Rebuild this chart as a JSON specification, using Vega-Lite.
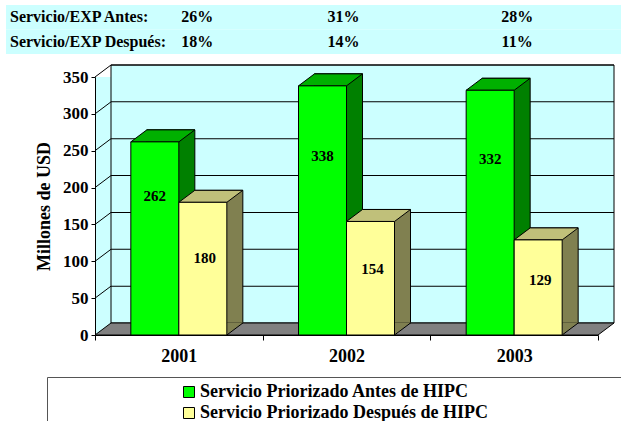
{
 "$schema": "https://vega.github.io/schema/vega-lite/v6.json",
 "width": 503,
 "height": 258,
 "autosize": {"type": "none"},
 "padding": {"left": 95, "top": 77, "right": 23, "bottom": 86},
 "background": "white",
 "datasets": {
  "bars": [
   {"year": "2001", "s": "A", "serie": "Servicio Priorizado Antes de HIPC", "value": 262},
   {"year": "2001", "s": "D", "serie": "Servicio Priorizado Después de HIPC", "value": 180},
   {"year": "2002", "s": "A", "serie": "Servicio Priorizado Antes de HIPC", "value": 338},
   {"year": "2002", "s": "D", "serie": "Servicio Priorizado Después de HIPC", "value": 154},
   {"year": "2003", "s": "A", "serie": "Servicio Priorizado Antes de HIPC", "value": 332},
   {"year": "2003", "s": "D", "serie": "Servicio Priorizado Después de HIPC", "value": 129}
  ],
  "grid": [{"g": 50}, {"g": 100}, {"g": 150}, {"g": 200}, {"g": 250}, {"g": 300}, {"g": 350}],
  "one": [{"k": 1}],
  "filas": [{"fila": "Servicio/EXP Antes:"}, {"fila": "Servicio/EXP Después:"}],
  "hdr": [
   {"fila": "Servicio/EXP Antes:", "year": "2001", "txt": "26%"},
   {"fila": "Servicio/EXP Antes:", "year": "2002", "txt": "31%"},
   {"fila": "Servicio/EXP Antes:", "year": "2003", "txt": "28%"},
   {"fila": "Servicio/EXP Después:", "year": "2001", "txt": "18%"},
   {"fila": "Servicio/EXP Después:", "year": "2002", "txt": "14%"},
   {"fila": "Servicio/EXP Después:", "year": "2003", "txt": "11%"}
  ]
 },
 "layer": [
  {
   "layer": [
    {
     "data": {"name": "one"},
     "mark": {"type": "bar", "width": 503, "xOffset": 16, "yOffset": -12, "y2Offset": -12, "fill": "#ccffff", "stroke": "black", "strokeWidth": 1, "opacity": 1},
     "encoding": {
      "x": {"datum": "2002", "type": "nominal"},
      "y": {"datum": 350, "type": "quantitative", "axis": {"values": [0, 50, 100, 150, 200, 250, 300, 350]}},
      "y2": {"datum": 0}
     }
    },
    {
     "data": {"name": "grid"},
     "mark": {"type": "tick", "orient": "horizontal", "size": 503, "thickness": 1, "color": "black", "opacity": 1, "xOffset": 16, "yOffset": -12},
     "encoding": {
      "x": {"datum": "2002", "type": "nominal"},
      "y": {"field": "g", "type": "quantitative", "title": "Millones de USD", "axis": {"values": [0, 50, 100, 150, 200, 250, 300, 350]}}
     }
    },
    {
     "data": {"name": "grid"},
     "mark": {"type": "point", "shape": "M0,0L16,-12", "size": 4, "filled": false, "stroke": "black", "strokeWidth": 1, "opacity": 1},
     "encoding": {
      "x": {"datum": "2001", "type": "nominal", "bandPosition": 0},
      "y": {"field": "g", "type": "quantitative", "title": "Millones de USD", "axis": {"values": [0, 50, 100, 150, 200, 250, 300, 350]}}
     }
    },
    {
     "data": {"name": "one"},
     "mark": {"type": "point", "shape": "M0,0L16,-12L519,-12L503,0Z", "size": 4, "filled": true, "fill": "#808080", "stroke": "black", "strokeWidth": 1, "opacity": 1},
     "encoding": {
      "x": {"datum": "2001", "type": "nominal", "bandPosition": 0},
      "y": {"datum": 0, "type": "quantitative", "axis": {"values": [0, 50, 100, 150, 200, 250, 300, 350]}}
     }
    },
    {
     "data": {"name": "bars"},
     "transform": [{"filter": "datum.s == 'A'"}],
     "mark": {"type": "bar", "width": 48, "xOffset": -8, "yOffset": -12, "y2Offset": -12, "fill": "#008000", "stroke": "black", "strokeWidth": 1, "opacity": 1},
     "encoding": {
      "x": {"field": "year", "type": "nominal", "title": null},
      "y": {"field": "value", "type": "quantitative", "title": "Millones de USD", "axis": {"values": [0, 50, 100, 150, 200, 250, 300, 350]}},
      "y2": {"datum": 0}
     }
    },
    {
     "data": {"name": "bars"},
     "transform": [{"filter": "datum.s == 'A'"}],
     "mark": {"type": "point", "shape": "M-48,0L-32,-12L16,-12L0,0Z", "size": 4, "filled": true, "fill": "#00b000", "stroke": "black", "strokeWidth": 1, "opacity": 1},
     "encoding": {
      "x": {"field": "year", "type": "nominal", "title": null},
      "y": {"field": "value", "type": "quantitative", "title": "Millones de USD", "axis": {"values": [0, 50, 100, 150, 200, 250, 300, 350]}}
     }
    },
    {
     "data": {"name": "bars"},
     "transform": [{"filter": "datum.s == 'A'"}],
     "mark": {"type": "bar", "width": 48, "xOffset": -24, "stroke": "black", "strokeWidth": 1, "opacity": 1},
     "encoding": {
      "x": {"field": "year", "type": "nominal", "title": null, "scale": {"domain": ["2001", "2002", "2003"], "paddingInner": 0, "paddingOuter": 0}},
      "y": {"field": "value", "type": "quantitative", "title": "Millones de USD", "scale": {"domain": [0, 350], "nice": false}, "axis": {"values": [0, 50, 100, 150, 200, 250, 300, 350]}},
      "y2": {"datum": 0},
      "fill": {
       "field": "serie", "type": "nominal",
       "scale": {"domain": ["Servicio Priorizado Antes de HIPC", "Servicio Priorizado Después de HIPC"], "range": ["#00ff00", "#ffff99"]},
       "legend": {
        "title": " ", "titleOrient": "right", "titlePadding": 150, "titleFontSize": 17,
        "orient": "none", "legendX": -48, "legendY": 300, "direction": "vertical",
        "symbolType": "square", "symbolSize": 121, "symbolStrokeColor": "black", "symbolStrokeWidth": 1,
        "labelFont": "Liberation Serif", "labelFontWeight": "bold", "labelFontSize": 18, "labelColor": "black", "labelLimit": 600,
        "symbolOffset": 127, "labelOffset": 2, "padding": 6, "rowPadding": 3,
        "strokeColor": "#555555", "fillColor": "white"
       }
      }
     }
    },
    {
     "data": {"name": "bars"},
     "transform": [{"filter": "datum.s == 'D'"}],
     "mark": {"type": "bar", "width": 48, "xOffset": 40, "yOffset": -12, "y2Offset": -12, "fill": "#808050", "stroke": "black", "strokeWidth": 1, "opacity": 1},
     "encoding": {
      "x": {"field": "year", "type": "nominal", "title": null},
      "y": {"field": "value", "type": "quantitative", "title": "Millones de USD", "axis": {"values": [0, 50, 100, 150, 200, 250, 300, 350]}},
      "y2": {"datum": 0}
     }
    },
    {
     "data": {"name": "bars"},
     "transform": [{"filter": "datum.s == 'D'"}],
     "mark": {"type": "point", "shape": "M48,-12.6L64.4,-12.6L48,0Z", "size": 4, "filled": true, "fill": "#808050", "strokeWidth": 0, "opacity": 1},
     "encoding": {
      "x": {"field": "year", "type": "nominal", "title": null},
      "y": {"datum": 0, "type": "quantitative", "axis": {"values": [0, 50, 100, 150, 200, 250, 300, 350]}}
     }
    },
    {
     "data": {"name": "bars"},
     "transform": [{"filter": "datum.s == 'D'"}],
     "mark": {"type": "point", "shape": "M48,0L64,-12", "size": 4, "filled": false, "stroke": "black", "strokeWidth": 1, "opacity": 1},
     "encoding": {
      "x": {"field": "year", "type": "nominal", "title": null},
      "y": {"datum": 0, "type": "quantitative", "axis": {"values": [0, 50, 100, 150, 200, 250, 300, 350]}}
     }
    },
    {
     "data": {"name": "bars"},
     "transform": [{"filter": "datum.s == 'D'"}],
     "mark": {"type": "point", "shape": "M0,0L16,-12L64,-12L48,0Z", "size": 4, "filled": true, "fill": "#c0c07a", "stroke": "black", "strokeWidth": 1, "opacity": 1},
     "encoding": {
      "x": {"field": "year", "type": "nominal", "title": null},
      "y": {"field": "value", "type": "quantitative", "title": "Millones de USD", "axis": {"values": [0, 50, 100, 150, 200, 250, 300, 350]}}
     }
    },
    {
     "data": {"name": "bars"},
     "transform": [{"filter": "datum.s == 'D'"}],
     "mark": {"type": "bar", "width": 48, "xOffset": 24, "stroke": "black", "strokeWidth": 1, "opacity": 1},
     "encoding": {
      "x": {"field": "year", "type": "nominal", "title": null},
      "y": {"field": "value", "type": "quantitative", "title": "Millones de USD", "axis": {"values": [0, 50, 100, 150, 200, 250, 300, 350]}},
      "y2": {"datum": 0},
      "fill": {
       "field": "serie", "type": "nominal",
       "legend": {
        "title": " ", "titleOrient": "right", "titlePadding": 150, "titleFontSize": 17,
        "orient": "none", "legendX": -48, "legendY": 300, "direction": "vertical",
        "symbolType": "square", "symbolSize": 121, "symbolStrokeColor": "black", "symbolStrokeWidth": 1,
        "labelFont": "Liberation Serif", "labelFontWeight": "bold", "labelFontSize": 18, "labelColor": "black", "labelLimit": 600,
        "symbolOffset": 127, "labelOffset": 2, "padding": 6, "rowPadding": 3,
        "strokeColor": "#555555", "fillColor": "white"
       }
      }
     }
    }
   ]
  },
  {
   "layer": [
    {
     "data": {"name": "filas"},
     "mark": {"type": "rect", "width": 615, "xOffset": -33, "fill": "#ccffff", "opacity": 1},
     "encoding": {
      "x": {"datum": "2002", "type": "nominal"},
      "y": {"field": "fila", "type": "nominal", "scale": {"domain": ["Servicio/EXP Antes:", "Servicio/EXP Después:"], "range": [-72, -23], "paddingInner": 0, "paddingOuter": 0}, "axis": null}
     }
    },
    {
     "data": {"name": "filas"},
     "mark": {"type": "text", "align": "left", "baseline": "middle", "dx": -85, "font": "Liberation Serif", "fontWeight": "bold", "fontSize": 16, "color": "black"},
     "encoding": {
      "x": {"datum": "2001", "type": "nominal", "bandPosition": 0},
      "y": {"field": "fila", "type": "nominal", "axis": null},
      "text": {"field": "fila"}
     }
    },
    {
     "data": {"name": "hdr"},
     "transform": [{"filter": "datum.year == '2001'"}],
     "mark": {"type": "text", "align": "center", "baseline": "middle", "dx": 18.5, "font": "Liberation Serif", "fontWeight": "bold", "fontSize": 16, "color": "black"},
     "encoding": {
      "x": {"field": "year", "type": "nominal", "title": null},
      "y": {"field": "fila", "type": "nominal", "axis": null},
      "text": {"field": "txt"}
     }
    },
    {
     "data": {"name": "hdr"},
     "transform": [{"filter": "datum.year == '2002'"}],
     "mark": {"type": "text", "align": "center", "baseline": "middle", "dx": -3, "font": "Liberation Serif", "fontWeight": "bold", "fontSize": 16, "color": "black"},
     "encoding": {
      "x": {"field": "year", "type": "nominal", "title": null},
      "y": {"field": "fila", "type": "nominal", "axis": null},
      "text": {"field": "txt"}
     }
    },
    {
     "data": {"name": "hdr"},
     "transform": [{"filter": "datum.year == '2003'"}],
     "mark": {"type": "text", "align": "center", "baseline": "middle", "dx": 3, "font": "Liberation Serif", "fontWeight": "bold", "fontSize": 16, "color": "black"},
     "encoding": {
      "x": {"field": "year", "type": "nominal", "title": null},
      "y": {"field": "fila", "type": "nominal", "axis": null},
      "text": {"field": "txt"}
     }
    }
   ]
  },
  {
   "data": {"name": "bars"},
   "transform": [{"filter": "datum.s == 'A'"}],
   "mark": {"type": "text", "baseline": "middle", "dx": -24, "font": "Liberation Serif", "fontWeight": "bold", "fontSize": 15, "color": "black"},
   "encoding": {
    "x": {"field": "year", "type": "nominal", "title": null},
    "y": {"field": "value", "type": "quantitative", "scale": {"domain": [0, 486], "nice": false}, "axis": null},
    "text": {"field": "value"}
   }
  },
  {
   "data": {"name": "bars"},
   "transform": [{"filter": "datum.s == 'D'"}],
   "mark": {"type": "text", "baseline": "middle", "dx": 26, "font": "Liberation Serif", "fontWeight": "bold", "fontSize": 15, "color": "black"},
   "encoding": {
    "x": {"field": "year", "type": "nominal", "title": null},
    "y": {"field": "value", "type": "quantitative", "scale": {"domain": [0, 600], "nice": false}, "axis": null},
    "text": {"field": "value"}
   }
  }
 ],
 "resolve": {"scale": {"y": "independent"}, "axis": {"y": "independent"}},
 "config": {
  "view": {"fill": "#ccffff", "stroke": null},
  "font": "Liberation Serif",
  "axis": {"grid": false, "domainColor": "black", "tickColor": "black", "labelColor": "black", "titleColor": "black", "labelFont": "Liberation Serif", "titleFont": "Liberation Serif", "labelFontWeight": "bold", "titleFontWeight": "bold", "zindex": 1},
  "axisX": {"labelFontSize": 18, "labelAngle": 0, "tickSize": 5, "labelPadding": 7, "tickBand": "extent"},
  "axisY": {"labelFontSize": 17, "titleFontSize": 18, "tickSize": 4, "labelPadding": 3, "titlePadding": 9, "tickCount": 8},
  "legend": {"labelFont": "Liberation Serif", "labelFontWeight": "bold", "labelFontSize": 18, "labelColor": "black", "labelLimit": 600}
 }
}
